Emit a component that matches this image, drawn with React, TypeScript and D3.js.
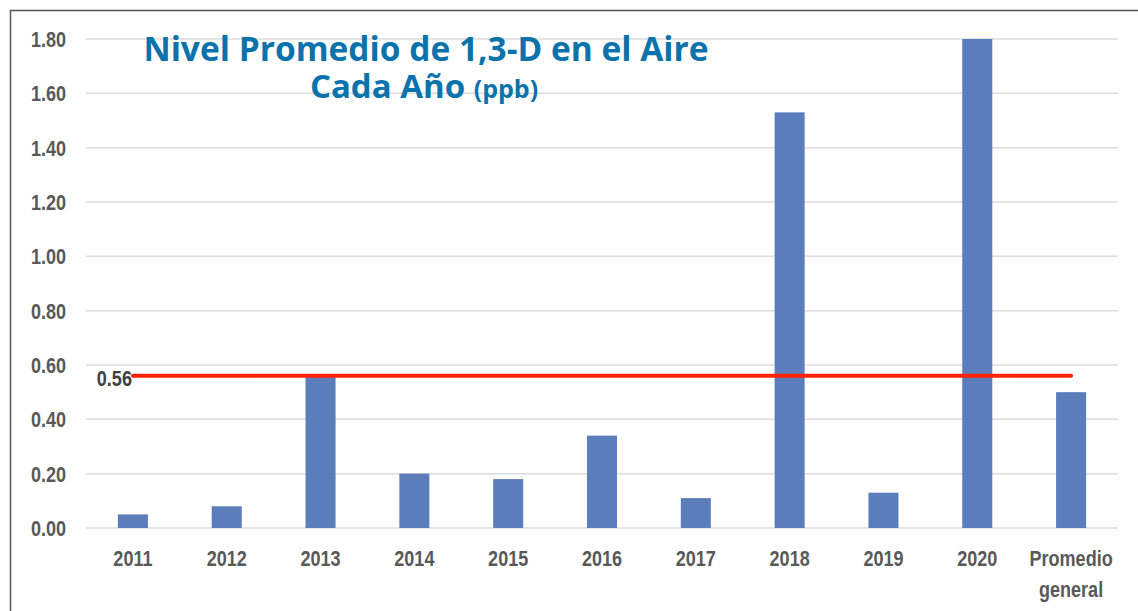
import React, { useEffect, useRef } from 'react';
import * as d3 from 'd3';

const categories = ['2011', '2012', '2013', '2014', '2015', '2016', '2017', '2018', '2019', '2020', 'Promedio general'];
const values = [0.05, 0.08, 0.56, 0.2, 0.18, 0.34, 0.11, 1.53, 0.13, 1.8, 0.5];
const yTicks = [0, 0.2, 0.4, 0.6, 0.8, 1.0, 1.2, 1.4, 1.6, 1.8];
const averageValue = 0.56;

export default function App() {
    const svgRef = useRef<SVGSVGElement>(null);

    useEffect(() => {
        if (!svgRef.current) return;
        const width = 1138;
        const height = 611;
        const axisFont = '"Liberation Sans", Arial, sans-serif';
        const squeeze = 0.82; // fake a condensed face

        d3.select(svgRef.current).selectAll('*').remove();
        const svg = d3.select(svgRef.current)
            .attr('width', width)
            .attr('height', height)
            .attr('viewBox', `0 0 ${width} ${height}`);

        svg.append('rect').attr('width', width).attr('height', height).attr('fill', 'white');

        // frame (top and left edges only, as in the clipped source)
        svg.append('path')
            .attr('d', `M10.5,${height} L10.5,10.5 L${width},10.5`)
            .attr('fill', 'none')
            .attr('stroke', '#555')
            .attr('stroke-width', 1.5);

        const x = d3.scaleBand<string>()
            .domain(categories)
            .range([86, 1118])
            .paddingInner(0.68)
            .paddingOuter(0.34);

        const y = d3.scaleLinear()
            .domain([0, 1.8])
            .range([528, 39]);

        // gridlines
        svg.append('g')
            .selectAll('line')
            .data(yTicks)
            .join('line')
            .attr('x1', 86)
            .attr('x2', 1118)
            .attr('y1', d => y(d))
            .attr('y2', d => y(d))
            .attr('stroke', '#dcdcdc')
            .attr('stroke-width', 1.5);

        // y tick labels
        svg.append('g')
            .selectAll('text')
            .data(yTicks)
            .join('text')
            .attr('transform', d => `translate(66,${y(d)}) scale(${squeeze},1)`)
            .attr('dy', '0.36em')
            .attr('text-anchor', 'end')
            .attr('fill', '#595959')
            .style('font-family', axisFont)
            .style('font-weight', '700')
            .style('font-size', '22px')
            .text(d => d.toFixed(2));

        // bars
        svg.append('g')
            .selectAll('rect')
            .data(values)
            .join('rect')
            .attr('x', (d, i) => x(categories[i])!)
            .attr('width', x.bandwidth())
            .attr('y', d => y(d))
            .attr('height', d => y(0) - y(d))
            .attr('fill', '#5b7dbc');

        // x labels
        const xl = svg.append('g')
            .selectAll('text')
            .data(categories)
            .join('text')
            .attr('transform', d => `translate(${x(d)! + x.bandwidth() / 2},566) scale(${squeeze},1)`)
            .attr('text-anchor', 'middle')
            .attr('fill', '#595959')
            .style('font-family', axisFont)
            .style('font-weight', '700')
            .style('font-size', '22px');
        xl.each(function (d) {
            const t = d3.select(this);
            d.split(' ').forEach((w, i) => {
                t.append('tspan')
                    .attr('x', 0)
                    .attr('dy', i === 0 ? 0 : 31)
                    .text(w);
            });
        });

        // average line
        const cx0 = x(categories[0])! + x.bandwidth() / 2;
        const cx1 = x(categories[categories.length - 1])! + x.bandwidth() / 2;
        svg.append('line')
            .attr('x1', cx0)
            .attr('x2', cx1)
            .attr('y1', y(averageValue))
            .attr('y2', y(averageValue))
            .attr('stroke', '#ff2200')
            .attr('stroke-width', 4)
            .attr('stroke-linecap', 'round');

        svg.append('text')
            .attr('transform', `translate(${cx0 - 1},${y(averageValue) + 10}) scale(${squeeze},1)`)
            .attr('text-anchor', 'end')
            .attr('fill', '#404040')
            .style('font-family', axisFont)
            .style('font-weight', '700')
            .style('font-size', '22px')
            .text(averageValue.toFixed(2));

        // title, two separate lines
        const titleStyle = (sel: any) => sel
            .attr('text-anchor', 'middle')
            .attr('fill', '#0a73ac')
            .style('font-family', '"Open Sans", sans-serif')
            .style('font-weight', '700');
        svg.append('text')
            .call(titleStyle)
            .attr('x', 426)
            .attr('y', 61)
            .style('font-size', '33.5px')
            .text('Nivel Promedio de 1,3-D en el Aire');
        const line2 = svg.append('text')
            .call(titleStyle)
            .attr('x', 424)
            .attr('y', 98)
            .style('font-size', '33px');
        line2.append('tspan').text('Cada Año ');
        line2.append('tspan').style('font-size', '25px').text('(ppb)');
    }, []);

    return (
        <div style={{ position: 'fixed', left: 0, top: 0 }}>
            <svg ref={svgRef}></svg>
        </div>
    );
}
